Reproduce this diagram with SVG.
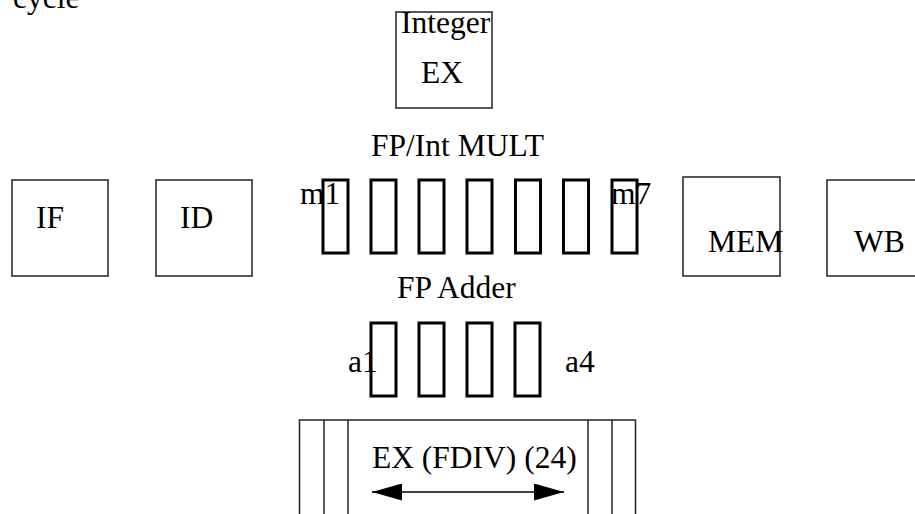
<svg xmlns="http://www.w3.org/2000/svg" width="915" height="514" viewBox="0 0 915 514">
<style>
text{font-family:"Liberation Serif","Times New Roman",serif;font-size:31.5px;fill:#000}
.box{fill:#fff;stroke:#222;stroke-width:1.5}
.st{fill:none;stroke:#000;stroke-width:3}
.ln{stroke:#222;stroke-width:1.5}
</style>
<defs>
<marker id="ah" viewBox="0 0 30 17" refX="30" refY="8.5" markerWidth="30" markerHeight="17" markerUnits="userSpaceOnUse" orient="auto-start-reverse">
<path d="M0,0 L30,8.5 L0,17 Z" fill="#000"/>
</marker>
</defs>
<text x="13" y="8">cycle</text>
<g id="intex">
<rect class="box" x="396" y="12" width="96" height="96"/>
<text x="401" y="33">Integer</text>
<text x="421" y="83">EX</text>
</g>
<g id="if">
<rect class="box" x="12" y="180" width="96" height="96"/>
<text x="36" y="228">IF</text>
</g>
<g id="id">
<rect class="box" x="156" y="180" width="96" height="96"/>
<text x="180" y="228">ID</text>
</g>
<g id="mult">
<text x="371" y="156">FP/Int MULT</text>
<text x="300" y="204">m1</text>
<rect class="st" x="323" y="180" width="25" height="73"/>
<rect class="st" x="371" y="180" width="25" height="73"/>
<rect class="st" x="419" y="180" width="25" height="73"/>
<rect class="st" x="467" y="180" width="25" height="73"/>
<rect class="st" x="515.5" y="180" width="25" height="73"/>
<rect class="st" x="563.5" y="180" width="25" height="73"/>
<rect class="st" x="612" y="180" width="25" height="73"/>
<text x="611" y="204">m7</text>
</g>
<g id="mem">
<rect class="box" x="683" y="177" width="97" height="99"/>
<text x="708" y="252">MEM</text>
</g>
<g id="wb">
<rect class="box" x="827" y="180" width="96" height="96"/>
<text x="854" y="252">WB</text>
</g>
<g id="adder">
<text x="397" y="298">FP Adder</text>
<text x="348" y="372">a1</text>
<rect class="st" x="371" y="323" width="25" height="73"/>
<rect class="st" x="419" y="323" width="25" height="73"/>
<rect class="st" x="467" y="323" width="25" height="73"/>
<rect class="st" x="515" y="323" width="25" height="73"/>
<text x="565" y="372">a4</text>
</g>
<g id="fdiv">
<rect class="box" x="299.5" y="420" width="336" height="110"/>
<line class="ln" x1="324" y1="420" x2="324" y2="514"/>
<line class="ln" x1="348" y1="420" x2="348" y2="514"/>
<line class="ln" x1="588" y1="420" x2="588" y2="514"/>
<line class="ln" x1="612" y1="420" x2="612" y2="514"/>
<text x="372" y="468">EX (FDIV) (24)</text>
</g>
<g id="connectors">
<line x1="372" y1="492" x2="564" y2="492" stroke="#000" stroke-width="1.5" marker-start="url(#ah)" marker-end="url(#ah)"/>
</g>
</svg>
